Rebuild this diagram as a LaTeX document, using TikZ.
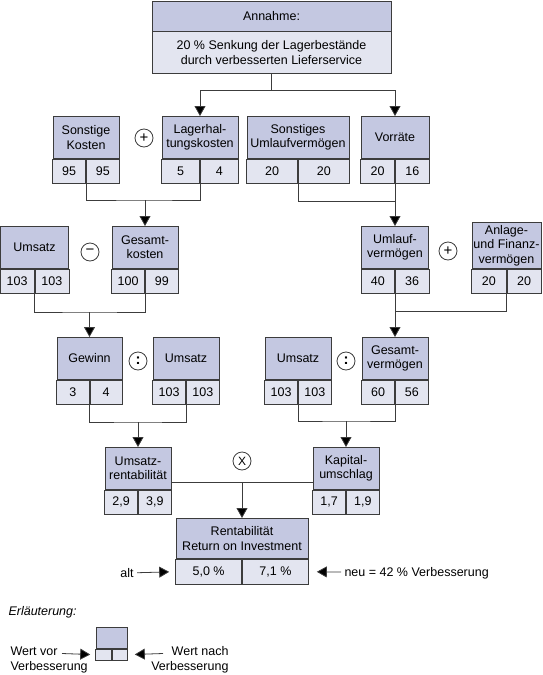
\documentclass[tikz,border=0pt]{standalone}
\usepackage{fontspec}
\setmainfont{Liberation Sans}
\usetikzlibrary{arrows.meta,positioning}
\definecolor{boxHead}{HTML}{C4C8E1}
\definecolor{boxCell}{HTML}{E3E5F0}
\definecolor{boxLine}{HTML}{3C3C3C}

\begin{document}
\begin{tikzpicture}[
  x=1pt, y=-1pt,
  font=\fontsize{12.5}{14.5}\selectfont,
  head/.style={draw=boxLine, fill=boxHead, line width=0.8pt, align=center, inner sep=1pt, minimum height=42pt, anchor=north},
  cell/.style={draw=boxLine, fill=boxCell, line width=0.8pt, inner sep=1pt, minimum height=24pt},
  cellL/.style={cell, anchor=north east},
  cellR/.style={cell, anchor=north west},
  op/.style={circle, draw=boxLine, line width=0.8pt, minimum size=18pt, inner sep=0pt, font=\fontsize{15}{15}\selectfont},
  link/.style={draw=boxLine, line width=0.8pt},
  arrow/.style={link, -{Triangle[width=11pt,length=10pt,fill=black]}},
]
\useasboundingbox (0,0) rectangle (543,675);

% Annahme
\node[head, minimum width=239pt, minimum height=30pt] (ann) at (271.5,0.5) {Annahme:};
\node[cell, minimum width=239pt, minimum height=42pt, anchor=north, align=center] (ann2) at (ann.south) {20 \% Senkung der Lagerbestände\\durch verbesserten Lieferservice};

% first row
\node[head, minimum width=66pt] (sk) at (86,116) {Sonstige\\Kosten};
\node[cellL, minimum width=33pt] (sk1) at (sk.south) {95};
\node[cellR, minimum width=33pt] (sk2) at (sk.south) {95};
\node[head, minimum width=76pt] (lk) at (200,116) {Lagerhal-\\tungskosten};
\node[cellL, minimum width=38pt] (lk1) at (lk.south) {5};
\node[cellR, minimum width=38pt] (lk2) at (lk.south) {4};
\node[head, minimum width=102pt] (su) at (298,116) {Sonstiges\\Umlaufvermögen};
\node[cellL, minimum width=51pt] (su1) at (su.south) {20};
\node[cellR, minimum width=51pt] (su2) at (su.south) {20};
\node[head, minimum width=68pt] (vr) at (395,116) {Vorräte};
\node[cellL, minimum width=34pt] (vr1) at (vr.south) {20};
\node[cellR, minimum width=34pt] (vr2) at (vr.south) {16};

% second row
\node[head, minimum width=68pt] (um1) at (34.5,226) {Umsatz};
\node[cellL, minimum width=34pt] (um11) at (um1.south) {103};
\node[cellR, minimum width=34pt] (um12) at (um1.south) {103};
\node[head, minimum width=66pt] (gk) at (145,226) {Gesamt-\\kosten};
\node[cellL, minimum width=33pt] (gk1) at (gk.south) {100};
\node[cellR, minimum width=33pt] (gk2) at (gk.south) {99};
\node[head, minimum width=67pt] (uv) at (395,226) {Umlauf-\\vermögen};
\node[cellL, minimum width=33.5pt] (uv1) at (uv.south) {40};
\node[cellR, minimum width=33.5pt] (uv2) at (uv.south) {36};
\node[head, minimum width=69pt, minimum height=46pt] (av) at (506.5,222) {Anlage-\\und Finanz-\\vermögen};
\node[cellL, minimum width=34.5pt] (av1) at (av.south) {20};
\node[cellR, minimum width=34.5pt] (av2) at (av.south) {20};

% third row
\node[head, minimum width=65pt] (gw) at (89.5,337) {Gewinn};
\node[cellL, minimum width=32.5pt] (gw1) at (gw.south) {3};
\node[cellR, minimum width=32.5pt] (gw2) at (gw.south) {4};
\node[head, minimum width=66pt] (um2) at (186,337) {Umsatz};
\node[cellL, minimum width=33pt] (um21) at (um2.south) {103};
\node[cellR, minimum width=33pt] (um22) at (um2.south) {103};
\node[head, minimum width=66pt] (um3) at (298,337) {Umsatz};
\node[cellL, minimum width=33pt] (um31) at (um3.south) {103};
\node[cellR, minimum width=33pt] (um32) at (um3.south) {103};
\node[head, minimum width=66pt] (gv) at (395,337) {Gesamt-\\vermögen};
\node[cellL, minimum width=33pt] (gv1) at (gv.south) {60};
\node[cellR, minimum width=33pt] (gv2) at (gv.south) {56};

% fourth row
\node[head, minimum width=66pt] (ur) at (138,447) {Umsatz-\\rentabilität};
\node[cellL, minimum width=33pt] (ur1) at (ur.south) {2,9};
\node[cellR, minimum width=33pt] (ur2) at (ur.south) {3,9};
\node[head, minimum width=66pt] (ku) at (346,447) {Kapital-\\umschlag};
\node[cellL, minimum width=33pt] (ku1) at (ku.south) {1,7};
\node[cellR, minimum width=33pt] (ku2) at (ku.south) {1,9};

% result
\node[head, minimum width=132pt, minimum height=40pt] (roi) at (242,518) {Rentabilität\\Return on Investment};
\node[cellL, minimum width=66pt, minimum height=25pt] (roi1) at (roi.south) {5,0 \%};
\node[cellR, minimum width=66pt, minimum height=25pt] (roi2) at (roi.south) {7,1 \%};

% operators
\node[op] (opA) at (144,138) {+};
\node[op] (opB) at (90,252) {−};
\node[op] (opC) at (448,251) {+};
\node[op] (opD) at (138,361) {\textbf{:}};
\node[op] (opE) at (346,361) {\textbf{:}};
\node[op, font=\fontsize{12}{12}\selectfont] (opF) at (242,461) {X};

% connectors
\coordinate (j0) at (271.5,90);
\draw[link] (ann2.south) -- (j0);
\draw[arrow] (j0) -| (lk.north);
\draw[arrow] (j0) -| (vr.north);

\coordinate (j1) at (145,200);
\draw[link] (sk1.south east) |- (j1) -| (lk1.south east);
\draw[arrow] (j1) -- (gk.north);

\coordinate (j2) at (395,201);
\draw[link] (su1.south east) |- (j2);
\draw[arrow] (vr1.south east) -- (uv.north);

\coordinate (j3) at (89.5,312);
\draw[link] (um11.south east) |- (j3) -| (gk1.south east);
\draw[arrow] (j3) -- (gw.north);

\coordinate (j4) at (395,311);
\draw[link] (av1.south east) |- (j4);
\draw[arrow] (uv1.south east) -- (gv.north);

\coordinate (j5) at (138,422);
\draw[link] (gw1.south east) |- (j5) -| (um21.south east);
\draw[arrow] (j5) -- (ur.north);

\coordinate (j6) at (346,421);
\draw[link] (um31.south east) |- (j6) -| (gv1.south east);
\draw[arrow] (j6) -- (ku.north);

\coordinate (j7) at (242,482);
\draw[link] (ur.east |- j7) -- (ku.west |- j7);
\draw[arrow] (j7) -- (roi.north);

% side labels
\node (alt) at (127,573) {alt};
\draw[arrow, shorten >=6pt] (alt) -- (roi1.west);
\node[anchor=west] (neu) at (341,573) {neu = 42 \% Verbesserung};
\draw[arrow, shorten >=8pt] (neu) -- (roi2.east);

% legend
\node[anchor=west, font=\fontsize{12.5}{14.5}\selectfont\itshape] (erl) at (5,612) {Erläuterung:};
\node[head, minimum width=31pt, minimum height=21pt] (leg) at (111.5,627) {};
\node[cellL, minimum width=15.5pt, minimum height=11pt] (leg1) at (leg.south) {};
\node[cellR, minimum width=15.5pt, minimum height=11pt] (leg2) at (leg.south) {};
\node[anchor=west, align=left] (wv) at (7,660) {Wert vor\\Verbesserung};
\node[anchor=east, align=right] (wn) at (232,660) {Wert nach\\Verbesserung};
\coordinate (lv) at (62,653.5);
\coordinate (ln) at (163,653.5);
\draw[arrow, shorten >=5pt] (lv) -- (leg1.west);
\draw[arrow, shorten >=7pt] (ln) -- (leg2.east);
\end{tikzpicture}
\end{document}
